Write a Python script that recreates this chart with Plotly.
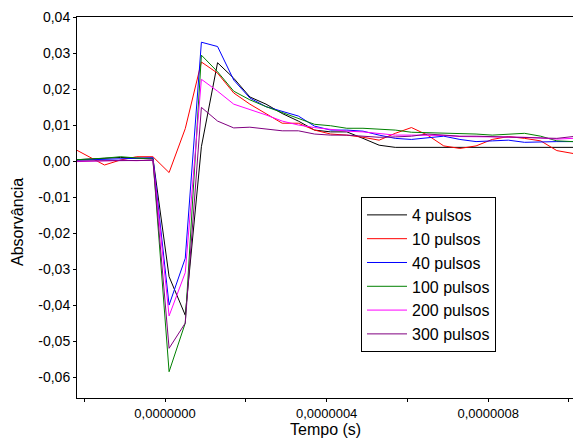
import plotly.graph_objects as go

# time points (s)
tempo = [-2.3e-7, -1.9e-7, -1.5e-7, -1.1e-7, -0.7e-7, -0.3e-7, 0.1e-7, 0.5e-7,
         0.9e-7, 1.3e-7, 1.7e-7, 2.1e-7, 2.5e-7, 2.9e-7, 3.3e-7, 3.7e-7,
         4.1e-7, 4.5e-7, 4.9e-7, 5.3e-7, 5.7e-7, 6.1e-7, 6.5e-7, 6.9e-7,
         7.3e-7, 7.7e-7, 8.1e-7, 8.5e-7, 8.9e-7, 9.3e-7, 9.7e-7, 10.1e-7]

p4 = [0.0003, 0.0005, 0.0008, 0.0010, 0.0008, 0.0008, -0.0321, -0.0428,
      0.0040, 0.0273, 0.0230, 0.0178, 0.0158, 0.0132, 0.0111, 0.0086,
      0.0081, 0.0081, 0.0063, 0.0044, 0.0038, 0.0038, 0.0038, 0.0038,
      0.0038, 0.0038, 0.0038, 0.0038, 0.0038, 0.0038, 0.0038, 0.0038]
p10 = [0.0037, 0.0013, -0.0011, 0.0003, 0.0012, 0.0012, -0.0032, 0.0090,
       0.0275, 0.0244, 0.0189, 0.0158, 0.0131, 0.0105, 0.0105, 0.0086,
       0.0075, 0.0072, 0.0066, 0.0058, 0.0077, 0.0093, 0.0072, 0.0042,
       0.0035, 0.0042, 0.0060, 0.0068, 0.0063, 0.0056, 0.0029, 0.0021]
p40 = [0.0002, 0.0003, 0.0004, 0.0006, 0.0006, 0.0009, -0.0400, -0.0270,
       0.0330, 0.0318, 0.0225, 0.0175, 0.0151, 0.0137, 0.0125, 0.0097,
       0.0086, 0.0086, 0.0083, 0.0072, 0.0063, 0.0060, 0.0065, 0.0069,
       0.0060, 0.0054, 0.0056, 0.0058, 0.0052, 0.0054, 0.0054, 0.0054]
p100 = [0.0003, 0.0005, 0.0008, 0.0012, 0.0008, 0.0005, -0.0585, -0.0450,
        0.0294, 0.0248, 0.0194, 0.0170, 0.0151, 0.0134, 0.0119, 0.0102,
        0.0098, 0.0091, 0.0091, 0.0088, 0.0086, 0.0080, 0.0079, 0.0078,
        0.0077, 0.0075, 0.0072, 0.0075, 0.0077, 0.0069, 0.0056, 0.0054]
p200 = [-0.0002, 0.0000, 0.0000, 0.0002, 0.0001, 0.0003, -0.0430, -0.0310,
        0.0227, 0.0194, 0.0158, 0.0144, 0.0128, 0.0111, 0.0100, 0.0093,
        0.0088, 0.0083, 0.0081, 0.0076, 0.0072, 0.0072, 0.0072, 0.0071,
        0.0068, 0.0068, 0.0067, 0.0067, 0.0066, 0.0064, 0.0061, 0.0063]
p300 = [0.0000, 0.0000, 0.0000, 0.0001, 0.0001, 0.0002, -0.0520, -0.0450,
        0.0149, 0.0111, 0.0092, 0.0094, 0.0089, 0.0084, 0.0084, 0.0075,
        0.0072, 0.0072, 0.0069, 0.0066, 0.0067, 0.0069, 0.0075, 0.0072,
        0.0069, 0.0069, 0.0068, 0.0068, 0.0067, 0.0064, 0.0063, 0.0068]

series_names = ["4 pulsos", "10 pulsos", "40 pulsos", "100 pulsos", "200 pulsos", "300 pulsos"]
series_values = [p4, p10, p40, p100, p200, p300]
colors = ["#000000", "#FF0000", "#0000FF", "#008000", "#FF00FF", "#800080"]

y_tickvals = [0.04, 0.03, 0.02, 0.01, 0.0, -0.01, -0.02, -0.03, -0.04, -0.05, -0.06]
y_ticktext = ["0,04", "0,03", "0,02", "0,01", "0,00", "-0,01", "-0,02", "-0,03", "-0,04", "-0,05", "-0,06"]
x_tickvals = [0.0, 4e-7, 8e-7]
x_ticktext = ["0,0000000", "0,0000004", "0,0000008"]

FONT = "Liberation Sans"

fig = go.Figure()
for name, vals, c in zip(series_names, series_values, colors):
    fig.add_trace(go.Scatter(x=tempo, y=vals, mode="lines", name=name,
                             line=dict(color=c, width=1)))

fig.update_layout(
    width=573, height=439,
    margin=dict(l=77, r=0, t=17, b=41),
    paper_bgcolor="white", plot_bgcolor="white",
    font=dict(family=FONT, color="black"),
    showlegend=True,
    legend=dict(x=0.5726, y=0.5276, xanchor="left", yanchor="top",
                bgcolor="white", bordercolor="black", borderwidth=1,
                font=dict(size=16, family=FONT, color="black"),
                itemwidth=40),
    annotations=[
        dict(text="Tempo (s)", x=0.5, y=-0.083, xref="paper", yref="paper",
             xanchor="center", yanchor="middle", showarrow=False,
             font=dict(size=16, family=FONT, color="black")),
        dict(text="Absorvância", x=-0.119, y=0.462, xref="paper", yref="paper",
             xanchor="center", yanchor="middle", showarrow=False, textangle=-90,
             font=dict(size=16, family=FONT, color="black")),
    ],
)
fig.update_xaxes(range=[-2.18e-7, 1.01e-6], showgrid=False, zeroline=False,
                 showline=True, linecolor="black", linewidth=1, mirror=True,
                 ticks="outside", ticklen=3, tickcolor="black",
                 tickvals=x_tickvals, ticktext=x_ticktext,
                 tickfont=dict(size=13, family=FONT, color="black"),
                 minor=dict(tickvals=[-2e-7, 2e-7, 6e-7, 10e-7], ticks="outside", ticklen=3, tickcolor="black"))
fig.update_yaxes(range=[-0.0658, 0.04], showgrid=False, zeroline=False,
                 showline=True, linecolor="black", linewidth=1,
                 ticks="outside", ticklen=3, tickcolor="black",
                 tickvals=y_tickvals, ticktext=y_ticktext,
                 tickfont=dict(size=14, family=FONT, color="black"))

fig.write_html("out.html")
